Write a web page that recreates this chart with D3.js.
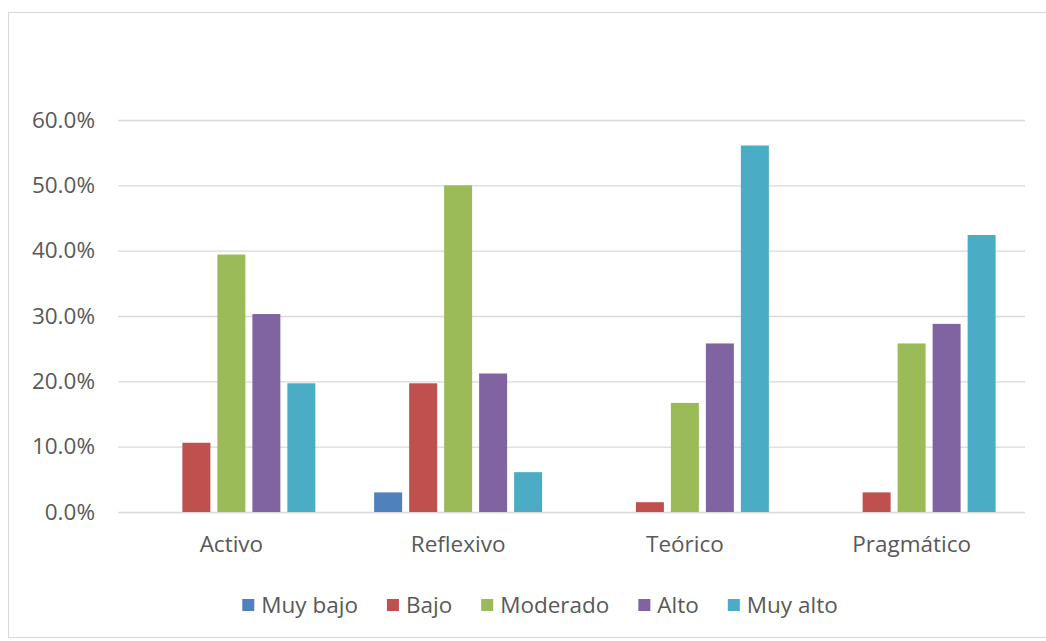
<!DOCTYPE html>
<html>
<head>
<meta charset="utf-8">
<script src="https://cdn.jsdelivr.net/npm/d3@7"></script>
<style>
  body { margin: 0; background: #fff; }
  text { font-family: "Open Sans", Lato, sans-serif; fill: #595959; }
</style>
</head>
<body>
<svg id="chart" width="1046" height="641"></svg>
<script>
// data
const categories = ["Activo", "Reflexivo", "Teórico", "Pragmático"];
const seriesNames = ["Muy bajo", "Bajo", "Moderado", "Alto", "Muy alto"];
const seriesColors = ["#4F81BD", "#C0504D", "#9BBB59", "#8064A2", "#4BACC6"];
const muyBajo  = [0.0, 3.0, 0.0, 0.0];
const bajo     = [10.6, 19.7, 1.5, 3.0];
const moderado = [39.4, 50.0, 16.7, 25.8];
const alto     = [30.3, 21.2, 25.8, 28.8];
const muyAlto  = [19.7, 6.1, 56.1, 42.4];
const yTicks = [0, 10, 20, 30, 40, 50, 60];

const values = [muyBajo, bajo, moderado, alto, muyAlto];
const rows = categories.map((c, i) => ({
  cat: c,
  vals: seriesNames.map((s, j) => ({ key: s, value: values[j][i] }))
}));

const svg = d3.select("#chart");
const margin = { top: 120, right: 21, bottom: 129, left: 118 };
const W = 1046, H = 641;
const innerW = W - margin.left - margin.right;
const innerH = H - margin.top - margin.bottom;
const fontSize = "22.5px";

// outer frame
svg.append("rect")
  .attr("x", 8.5).attr("y", 12.5)
  .attr("width", 1046).attr("height", 625)
  .attr("fill", "#fff")
  .attr("stroke", "#d9d9d9");

const g = svg.append("g").attr("transform", `translate(${margin.left},${margin.top})`);

const x0 = d3.scaleBand().domain(categories).range([0, innerW]);
const x1 = d3.scaleBand().domain(seriesNames).range([0, x0.bandwidth()])
  .paddingInner(0.2).paddingOuter(0.84);
const y = d3.scaleLinear().domain([0, 60]).range([innerH, 0]);
const color = d3.scaleOrdinal().domain(seriesNames).range(seriesColors);

// gridlines + y labels
const yAxis = d3.axisLeft(y).tickValues(yTicks)
  .tickSize(-innerW).tickPadding(23)
  .tickFormat(d => d.toFixed(1) + "%");
g.append("g").call(yAxis)
  .call(a => a.select(".domain").remove())
  .call(a => a.selectAll("line").attr("stroke", "#d9d9d9").attr("stroke-width", 1.3))
  .call(a => a.selectAll("text").style("font-size", fontSize).attr("fill", "#595959"));

// bars
const groups = g.selectAll("g.cat").data(rows).join("g")
  .attr("class", "cat")
  .attr("transform", d => `translate(${x0(d.cat)},0)`);
groups.selectAll("rect").data(d => d.vals.filter(v => v.value > 0)).join("rect")
  .attr("x", d => x1(d.key))
  .attr("width", x1.bandwidth())
  .attr("y", d => y(d.value))
  .attr("height", d => y(0) - y(d.value))
  .attr("fill", d => color(d.key));

// x labels
const xAxis = d3.axisBottom(x0).tickSize(0).tickPadding(24);
g.append("g").attr("transform", `translate(0,${innerH})`).call(xAxis)
  .call(a => a.select(".domain").remove())
  .call(a => a.selectAll("text").style("font-size", fontSize).attr("fill", "#595959"));

// legend
const legend = svg.append("g").attr("transform", "translate(0,605)");
const items = legend.selectAll("g").data(seriesNames).join("g");
items.append("rect").attr("width", 12).attr("height", 12).attr("y", -6)
  .attr("fill", d => color(d));
items.append("text").attr("x", 19).attr("dy", "0.35em")
  .style("font-size", fontSize).text(d => d);
let off = 0;
const gap = 29;
items.each(function () {
  const w = this.getBBox().width;
  d3.select(this).attr("data-x", off);
  off += w + gap;
});
const total = off - gap;
const startX = (W + 34 - total) / 2;
items.attr("transform", function () {
  return `translate(${startX + +this.getAttribute("data-x")},0)`;
});
</script>
</body>
</html>
